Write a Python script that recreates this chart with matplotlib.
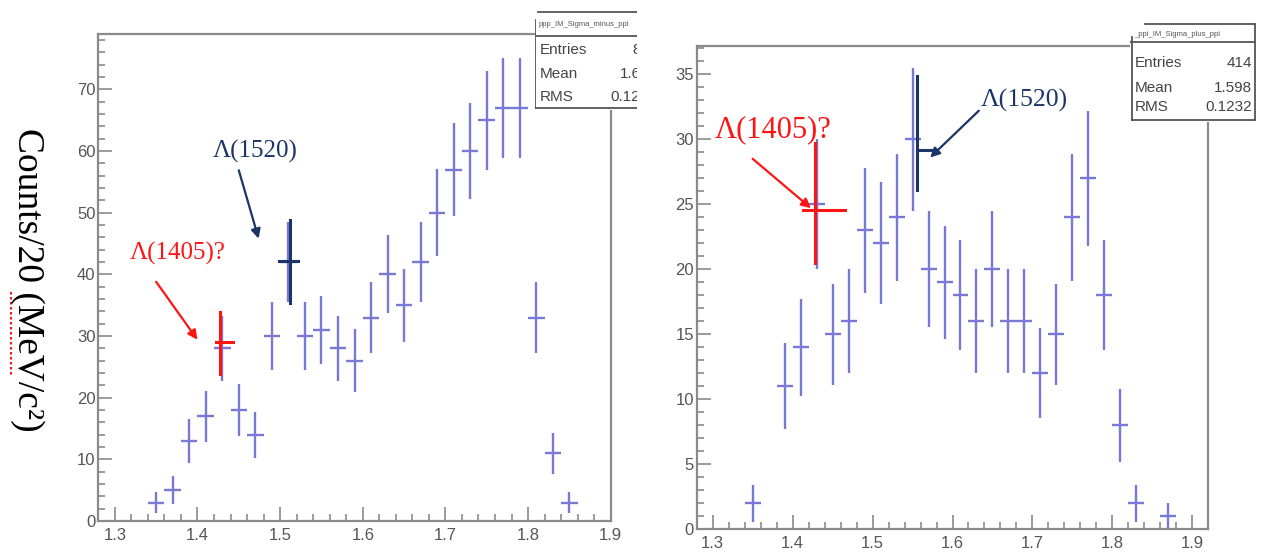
import numpy as np
import matplotlib.pyplot as plt
from matplotlib.lines import Line2D
from matplotlib.patches import Rectangle
from matplotlib.ticker import MultipleLocator

W, H = 1261, 554

# invariant mass bin centres (GeV/c^2), 20 MeV bins
centres_minus = [1.35, 1.37, 1.39, 1.41, 1.43, 1.45, 1.47, 1.49, 1.51, 1.53, 1.55, 1.57, 1.59,
                 1.61, 1.63, 1.65, 1.67, 1.69, 1.71, 1.73, 1.75, 1.77, 1.79, 1.81, 1.83, 1.85]
counts_minus = [3, 5, 13, 17, 28, 18, 14, 30, 42, 30, 31, 28, 26,
                33, 40, 35, 42, 50, 57, 60, 65, 67, 67, 33, 11, 3]

centres_plus = [1.35, 1.37, 1.39, 1.41, 1.43, 1.45, 1.47, 1.49, 1.51, 1.53, 1.55, 1.57, 1.59, 1.61,
                1.63, 1.65, 1.67, 1.69, 1.71, 1.73, 1.75, 1.77, 1.79, 1.81, 1.83, 1.85, 1.87]
counts_plus = [2, 0, 11, 14, 25, 15, 16, 23, 22, 24, 30, 20, 19, 18,
               16, 20, 16, 16, 12, 15, 24, 27, 18, 8, 2, 0, 1]

# highlighted bins: x, y, y range, x range
mark1405_minus = [1.4275, 29.1, (23.9, 33.9), (1.4225, 1.4425)]
mark1520_minus = [1.512, 42.1, (35.3, 48.8), (1.499, 1.522)]
mark1405_plus = [1.4276, 24.6, (20.5, 29.75), (1.413, 1.466)]
mark1520_plus = [1.556, 29.2, (26.1, 34.85), (1.556, 1.58)]

stats_minus = [("Entries", "848"), ("Mean", "1.647"), ("RMS", "0.1236")]
stats_plus = [("Entries", "414"), ("Mean", "1.598"), ("RMS", "0.1232")]

BLUE = "#7878d6"
RED = "#ff1414"
NAVY = "#1b3566"
FRAME = "#8a8a8a"

plt.rcParams["font.family"] = ["Liberation Sans", "DejaVu Sans"]


def px_axes(x0, y0, x1, y1):
    # pixel box (top-left origin) -> figure fraction rect
    return [x0 / W, (H - y1) / H, (x1 - x0) / W, (y1 - y0) / H]


def draw_panel(ax, centres, counts, xlim, ylim, ymaj, ymin):
    c = np.array(centres)
    n = np.array(counts, dtype=float)
    keep = n > 0
    ax.errorbar(c[keep], n[keep], xerr=0.01, yerr=np.sqrt(n[keep]), fmt="none",
                ecolor=BLUE, elinewidth=1.7, capsize=0)
    ax.set_xlim(*xlim)
    ax.set_ylim(*ylim)
    ax.xaxis.set_major_locator(MultipleLocator(0.1))
    ax.xaxis.set_minor_locator(MultipleLocator(0.02))
    ax.yaxis.set_major_locator(MultipleLocator(ymaj))
    ax.yaxis.set_minor_locator(MultipleLocator(ymin))
    ax.tick_params(which="both", direction="in", color=FRAME, width=1.2,
                   labelcolor="#555555", labelsize=12, top=False, right=False)
    ax.tick_params(which="major", length=10)
    ax.tick_params(which="minor", length=5)
    ax.tick_params(axis="y", pad=2)
    ax.tick_params(axis="x", pad=5)
    for s in ax.spines.values():
        s.set_color(FRAME)
        s.set_linewidth(1.6)


def draw_mark(ax, mark, color):
    x, y, (ylo, yhi), (xlo, xhi) = mark
    ax.plot([x, x], [ylo, yhi], color=color, lw=2.2, zorder=5)
    ax.plot([xlo, xhi], [y, y], color=color, lw=2.2, zorder=5)


def label(ax, text, xy, xytext, arrow_from, color, size):
    ax.text(xytext[0], xytext[1], text, color=color, fontsize=size, ha="center", va="center",
            family=["Liberation Serif", "DejaVu Serif"], zorder=6)
    ax.annotate("", xy=xy, xytext=arrow_from,
                arrowprops=dict(arrowstyle="-|>", color=color, lw=1.6, mutation_scale=14,
                                shrinkA=0, shrinkB=0), zorder=6)


def stats_box(fig, rect, title, rows, lines, row_y, label_x, value_x, title_y):
    sa = fig.add_axes(rect)
    sa.set_xlim(0, 1)
    sa.set_ylim(1, 0)
    sa.axis("off")
    sa.add_patch(Rectangle((0, 0), 1, 1, facecolor="white", edgecolor="none", clip_on=True))
    for (xa, ya, xb, yb) in lines:
        sa.add_line(Line2D([xa, xb], [ya, yb], color="#555555", lw=1.3, clip_on=True))
    sa.text(0.03, title_y, title, fontsize=5.5, color="#555555", va="center", clip_on=True)
    for (name, val), y in zip(rows, row_y):
        sa.text(label_x, y, name, fontsize=11, color="#444444", va="center", clip_on=True)
        sa.text(value_x, y, val, fontsize=11, color="#444444", va="center", ha="right", clip_on=True)
    return sa


fig = plt.figure(figsize=(W / 100, H / 100), dpi=100)

# left panel: Sigma- channel
ax1 = fig.add_axes(px_axes(98.3, 34, 610.7, 521))
draw_panel(ax1, centres_minus, counts_minus, (1.28, 1.9), (0, 79), 10, 2)
draw_mark(ax1, mark1405_minus, RED)
draw_mark(ax1, mark1520_minus, NAVY)
label(ax1, "Λ(1405)?", (1.40, 29.4), (1.376, 43.4), (1.35, 38.8), RED, 18)
label(ax1, "Λ(1520)", (1.474, 45.8), (1.470, 60.0), (1.45, 56.9), NAVY, 18)

# right panel: Sigma+ channel
ax2 = fig.add_axes(px_axes(696.7, 45.7, 1208.3, 529.3))
draw_panel(ax2, centres_plus, counts_plus, (1.28, 1.92), (0, 37.2), 5, 1)
draw_mark(ax2, mark1405_plus, RED)
draw_mark(ax2, mark1520_plus, NAVY)
label(ax2, "Λ(1405)?", (1.423, 24.7), (1.375, 30.7), (1.350, 28.5), RED, 22)
label(ax2, "Λ(1520)", (1.572, 28.6), (1.69, 33.0), (1.633, 32.2), NAVY, 18.5)

# statistics boxes (left one is cut by the screenshot edge)
stats_box(fig, px_axes(535, 10, 637, 110), "ppp_IM_Sigma_minus_ppi", stats_minus,
          [(0.03, 0.02, 1.0, 0.02), (0.0, 0.26, 1.0, 0.26), (0.0, 0.1, 0.0, 0.98), (0.0, 0.98, 1.0, 0.98)],
          [0.40, 0.64, 0.87], 0.05, 1.2, 0.14)
stats_box(fig, px_axes(1130, 22, 1257, 122), "_ppi_IM_Sigma_plus_ppi", stats_plus,
          [(0.12, 0.02, 0.985, 0.02), (0.0, 0.197, 0.985, 0.197), (0.012, 0.15, 0.012, 0.98),
           (0.985, 0.02, 0.985, 0.98), (0.012, 0.98, 0.985, 0.98)],
          [0.413, 0.663, 0.853], 0.04, 0.96, 0.13)

# y axis title (pasted next to the left panel) with spell-check underline
fig.text(27 / W, (H - 280) / H, "Counts/20 (MeV/c²)", rotation=270, ha="center", va="center",
         fontsize=27, family=["Liberation Serif", "DejaVu Serif"], color="black")
fig.add_artist(Line2D([11 / W, 11 / W], [(H - 292) / H, (H - 377) / H], color=RED,
                      lw=1.5, linestyle=(0, (1.2, 1.2)), transform=fig.transFigure))

fig.savefig("out.png", dpi=100, facecolor="white")
